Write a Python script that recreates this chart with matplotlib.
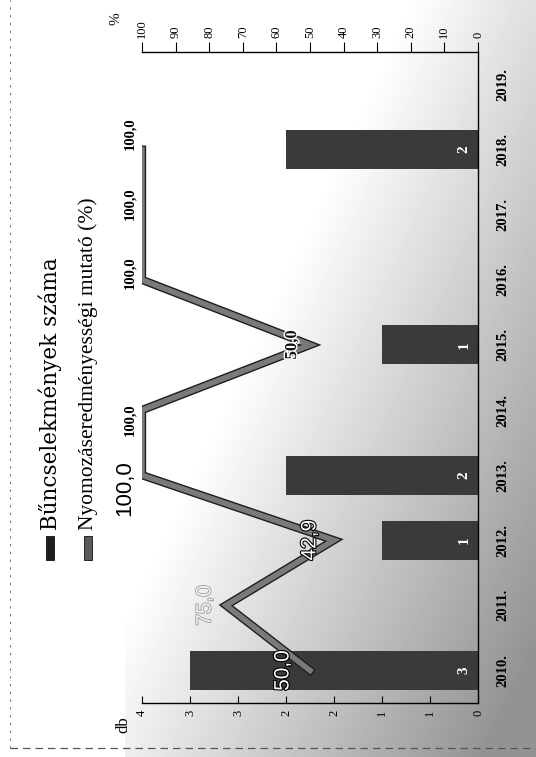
import matplotlib
matplotlib.use('Agg')
import matplotlib.pyplot as plt
import matplotlib.patheffects as pe
from matplotlib.patches import Rectangle
from matplotlib.lines import Line2D
import numpy as np

# ---------------- data ----------------
years = ['2010.', '2011.', '2012.', '2013.', '2014.', '2015.', '2016.', '2017.', '2018.', '2019.']
crimes = [3, 0, 1, 2, 0, 1, 0, 0, 2, 0]
rate = [50.0, 75.0, 42.9, 100.0, 100.0, 50.0, 100.0, 100.0, 100.0, np.nan]
db_ticks = [0, 0.5, 1, 1.5, 2, 2.5, 3, 3.5]
db_labels = ['0', '1', '1', '2', '2', '3', '3', '4']
pct_ticks = [0, 10, 20, 30, 40, 50, 60, 70, 80, 90, 100]
legend_labels = ['Bűncselekmények száma', 'Nyomozáseredményességi mutató (%)']

# label offsets (pixels) relative to each line point, and styles
rate_off = [(-27, 0), (-21, 0), (-24, 0), (-17, -13), (-12, -10), (-18, 0), (-12, 7), (-12, 11), (-12, 16), (0, 0)]
rate_style = ['white', 'faint', 'white', 'big', 'small', 'mid', 'small', 'small', 'small', None]

W, H = 536, 757
fig = plt.figure(figsize=(W / 100, H / 100), dpi=100)

# scanned gray background (decoration)
bg = fig.add_axes([0, 0, 1, 1], zorder=-10)
XX, YY = np.meshgrid(np.arange(W), np.arange(H))
a = np.clip((XX - 130) / 400.0, 0, 1)
b = YY / H
dark = np.clip(0.4 * a + 0.35 * b - 0.28, 0, 0.42)
dark[XX < 125] = 0
bg.imshow(1 - dark, cmap='gray', vmin=0, vmax=1, aspect='auto', interpolation='bilinear')
bg.axis('off')

L, R, T, B = 142, 478, 52, 703
ax = fig.add_axes([L / W, 1 - B / H, (R - L) / W, (B - T) / H])
ax.set_facecolor('none')
y = np.arange(len(years))
ax.barh(y, crimes, height=0.6, color='#3a3a3a', zorder=2)
ax.set_xlim(3.5, 0)
ax.set_ylim(-0.5, len(years) - 0.5)
ax.set_xticks(db_ticks)
ax.set_xticklabels(db_labels, rotation=90, fontsize=9, family='Liberation Serif')
ax.tick_params(axis='x', direction='in', length=5, pad=5, width=0.8)
ax.yaxis.tick_right()
ax.set_yticks(y)
ax.set_yticklabels(years, rotation=90, fontsize=10.5, fontweight='bold',
                   family='Liberation Serif', va='center')
ax.tick_params(axis='y', length=0, pad=13)
ax.spines['left'].set_visible(False)
ax.spines['top'].set_visible(False)
ax.spines['right'].set_linewidth(1.0)
ax.spines['bottom'].set_linewidth(1.0)

for yi, v in zip(y, crimes):
    if v > 0:
        ax.annotate(str(v), (0, yi), xytext=(-10, 0), textcoords='offset points',
                    rotation=90, ha='center', va='center', color='white',
                    fontsize=11, fontweight='bold', family='Liberation Serif', zorder=5)

ax2 = ax.twiny()
ax2.set_facecolor('none')
ax2.set_xlim(100, 0)
ax2.set_xticks(pct_ticks)
ax2.set_xticklabels([str(t) for t in pct_ticks], rotation=90, fontsize=9, family='Liberation Serif')
ax2.tick_params(axis='x', direction='out', length=7, pad=3, width=0.8)
for s in ['bottom', 'left', 'right']:
    ax2.spines[s].set_visible(False)
ax2.spines['top'].set_linewidth(1.0)
ax2.plot(rate, y, color='#7a7a7a', lw=4, solid_joinstyle='miter',
         path_effects=[pe.Stroke(linewidth=6, foreground='#1e1e1e'), pe.Normal()], zorder=3)

for yi, v, off, st in zip(y, rate, rate_off, rate_style):
    if st is None or np.isnan(v):
        continue
    txt = f'{v:.1f}'.replace('.', ',')
    dx, dy = off[0] * 0.72, off[1] * 0.72
    kw = dict(rotation=90, ha='center', va='center', textcoords='offset points', zorder=6)
    if st == 'white':
        ax2.annotate(txt, (v, yi), xytext=(dx, dy), color='white', fontsize=15,
                     family='Liberation Sans',
                     path_effects=[pe.withStroke(linewidth=1.6, foreground='black')], **kw)
    elif st == 'faint':
        ax2.annotate(txt, (v, yi), xytext=(dx, dy), color='#f4f4f4', fontsize=15,
                     family='Liberation Sans',
                     path_effects=[pe.withStroke(linewidth=1.2, foreground='#9a9a9a')], **kw)
    elif st == 'big':
        ax2.annotate(txt, (v, yi), xytext=(dx, dy), color='black', fontsize=16,
                     family='Liberation Sans', **kw)
    elif st == 'mid':
        ax2.annotate(txt, (v, yi), xytext=(dx, dy), color='#111111', fontsize=12,
                     fontweight='bold', family='Liberation Serif',
                     path_effects=[pe.withStroke(linewidth=2, foreground='white')], **kw)
    else:
        ax2.annotate(txt, (v, yi), xytext=(dx, dy), color='black', fontsize=10.5,
                     fontweight='bold', family='Liberation Serif', **kw)

# axis unit labels
fig.text(123 / W, 1 - 725 / H, 'db', rotation=90, ha='center', va='center',
         fontsize=12, family='Liberation Serif')
fig.text(116 / W, 1 - 19 / H, '%', rotation=90, ha='center', va='center',
         fontsize=11, family='Liberation Serif')

# legend (rotated, manual)
leg_x = [50, 88]
leg_col = ['#1e1e1e', '#5a5a5a']
leg_font = [('DejaVu Serif', 15.5), ('Liberation Serif', 15.5)]
for lx, lab, col, (fam, fs) in zip(leg_x, legend_labels, leg_col, leg_font):
    fig.add_artist(Rectangle(((lx - 4) / W, 1 - 560 / H), 8 / W, 24 / H,
                             transform=fig.transFigure, facecolor=col, edgecolor='#111111', lw=0.6))
    fig.text(lx / W, 1 - 530 / H, lab, rotation=90, ha='center', va='bottom',
             fontsize=fs, family=fam)

# chart-area dashed border
fig.add_artist(Line2D([10 / W, 10 / W], [1 - 748 / H, 1.0], transform=fig.transFigure,
                      ls=(0, (2, 5)), color='#777777', lw=0.8))
fig.add_artist(Line2D([10 / W, 1.0], [1 - 748 / H, 1 - 748 / H], transform=fig.transFigure,
                      ls=(0, (6, 4)), color='#555555', lw=0.9))

fig.savefig('out.png', dpi=100)
